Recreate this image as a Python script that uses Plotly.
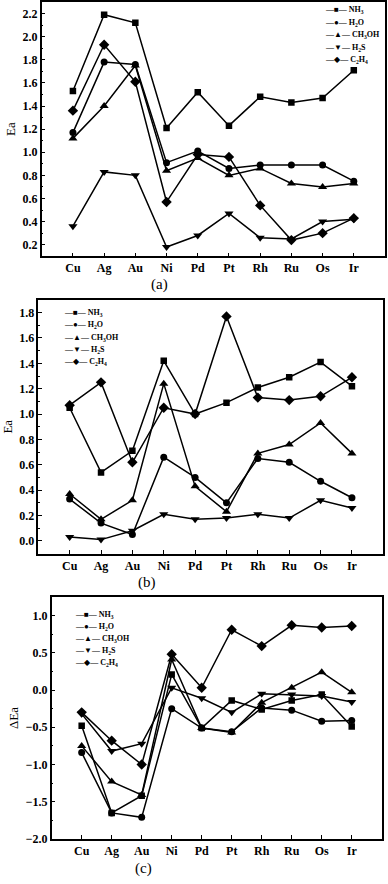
import plotly.graph_objects as go

metals = ["Cu", "Ag", "Au", "Ni", "Pd", "Pt", "Rh", "Ru", "Os", "Ir"]
names = ["NH<sub>3</sub>", "H<sub>2</sub>O", "CH<sub>3</sub>OH", "H<sub>2</sub>S", "C<sub>2</sub>H<sub>4</sub>"]
legend_keys = ["\u2014\u25a0\u2014", "\u2014\u25cf\u2014", "\u2014\u25b2\u2014", "\u2014\u25bc\u2014", "\u2014\u25c6\u2014"]

# (a) Ea
nh3_a = [1.53, 2.19, 2.12, 1.21, 1.52, 1.23, 1.48, 1.43, 1.47, 1.71]
h2o_a = [1.17, 1.78, 1.76, 0.91, 1.01, 0.86, 0.89, 0.89, 0.89, 0.75]
ch3oh_a = [1.12, 1.40, 1.75, 0.84, 0.95, 0.80, 0.86, 0.73, 0.70, 0.73]
h2s_a = [0.36, 0.83, 0.80, 0.18, 0.28, 0.47, 0.26, 0.25, 0.40, 0.42]
c2h4_a = [1.36, 1.93, 1.61, 0.57, 0.98, 0.96, 0.54, 0.24, 0.30, 0.43]

# (b) Ea
nh3_b = [1.05, 0.54, 0.71, 1.42, 1.00, 1.09, 1.21, 1.29, 1.41, 1.22]
h2o_b = [0.33, 0.14, 0.05, 0.66, 0.50, 0.30, 0.65, 0.62, 0.47, 0.34]
ch3oh_b = [0.37, 0.17, 0.32, 1.24, 0.43, 0.23, 0.69, 0.76, 0.93, 0.69]
h2s_b = [0.03, 0.01, 0.08, 0.21, 0.17, 0.18, 0.21, 0.18, 0.32, 0.26]
c2h4_b = [1.07, 1.25, 0.62, 1.05, 1.00, 1.77, 1.13, 1.11, 1.14, 1.29]

# (c) delta Ea
nh3_c = [-0.48, -1.65, -1.42, 0.21, -0.51, -0.14, -0.26, -0.14, -0.06, -0.49]
h2o_c = [-0.84, -1.65, -1.71, -0.25, -0.51, -0.56, -0.24, -0.27, -0.42, -0.41]
ch3oh_c = [-0.75, -1.23, -1.41, 0.41, -0.51, -0.57, -0.17, 0.03, 0.24, -0.03]
h2s_c = [-0.32, -0.82, -0.72, 0.03, -0.11, -0.30, -0.05, -0.06, -0.08, -0.16]
c2h4_c = [-0.30, -0.68, -1.00, 0.48, 0.03, 0.81, 0.59, 0.87, 0.84, 0.86]

symbols = ["square", "circle", "triangle-up", "triangle-down", "diamond"]
msizes = [6.5, 7, 8, 8, 8]

SERIF = "Liberation Serif"
H = 884.0
W = 388.0

fig = go.Figure()

panels = [
    ("x", "y", [nh3_a, h2o_a, ch3oh_a, h2s_a, c2h4_a]),
    ("x2", "y2", [nh3_b, h2o_b, ch3oh_b, h2s_b, c2h4_b]),
    ("x3", "y3", [nh3_c, h2o_c, ch3oh_c, h2s_c, c2h4_c]),
]

for xa, ya, series in panels:
    for name, vals, sym, ms in zip(names, series, symbols, msizes):
        fig.add_trace(go.Scatter(
            x=metals, y=vals, name=name, mode="lines+markers",
            xaxis=xa, yaxis=ya, showlegend=False,
            line=dict(color="black", width=1.5),
            marker=dict(symbol=sym, size=ms, color="black"),
        ))


def xax(domain, anchor):
    return dict(
        domain=domain, anchor=anchor, range=[-1, 10], type="category",
        showline=True, linecolor="black", linewidth=1.5, mirror=True,
        ticks="inside", ticklen=4, tickcolor="black", tickwidth=1,
        showgrid=False, zeroline=False,
        tickfont=dict(family=SERIF, size=12, color="black", weight="bold"),
    )


def yax(domain, anchor, rng, dtick, tick0, title):
    return dict(
        domain=domain, anchor=anchor, range=rng, dtick=dtick, tick0=tick0,
        tickformat=".1f",
        showline=True, linecolor="black", linewidth=1.5, mirror=True,
        ticks="inside", ticklen=4, tickcolor="black", tickwidth=1,
        minor=dict(dtick=dtick / 2, ticks="inside", ticklen=2, tickcolor="black"),
        showgrid=False, zeroline=False,
        tickfont=dict(family=SERIF, size=12, color="black", weight="bold"),
        title=dict(text=title, font=dict(family=SERIF, size=13, color="black"), standoff=4),
    )


annotations = []

# legend rows: (left x of key, y of each row) for each panel
legend_spots = [
    (323, [10, 22.7, 35.3, 48, 60.7]),
    (62, [315.7, 328, 340.3, 352.7, 365.3]),
    (73, [620, 632, 644.3, 656.5, 668.5]),
]
for x0, rows in legend_spots:
    for key, name, yy in zip(legend_keys, names, rows):
        annotations.append(dict(
            text=key + " " + name, x=x0 / W, y=1 - yy / H, xref="paper", yref="paper",
            xanchor="left", yanchor="middle", showarrow=False,
            font=dict(family="Liberation Serif, DejaVu Sans", size=8, color="black", weight="bold"),
        ))

for lab, xx, yy in [("(a)", 159, 287), ("(b)", 147, 587), ("(c)", 143, 875)]:
    annotations.append(dict(
        text=lab, x=xx / W, y=1 - yy / H, xref="paper", yref="paper",
        xanchor="center", yanchor="middle",
        showarrow=False, font=dict(family=SERIF, size=15, color="black"),
    ))

fig.update_layout(
    width=388, height=884,
    margin=dict(l=0, r=0, t=0, b=0),
    paper_bgcolor="white", plot_bgcolor="white",
    showlegend=False,
    xaxis=xax([0.1075, 0.9923], "y"),
    yaxis=yax([0.7078, 0.9977], "x", [0.1, 2.3], 0.2, 0.2, "Ea"),
    xaxis2=xax([0.0987, 0.9879], "y2"),
    yaxis2=yax([0.3688, 0.6580], "x2", [-0.1, 1.9], 0.2, 0.0, "Ea"),
    xaxis3=xax([0.1332, 0.9838], "y3"),
    yaxis3=yax([0.0433, 0.3193], "x3", [-2.001, 1.25], 0.5, 0.0, "\u0394Ea"),
    annotations=annotations,
)

# drop the default page margin so the figure sits at the window's top-left corner
fig.write_html(
    "out.html",
    config={"displayModeBar": False},
    post_script="document.body.style.margin='0';document.body.style.overflow='hidden';",
)
